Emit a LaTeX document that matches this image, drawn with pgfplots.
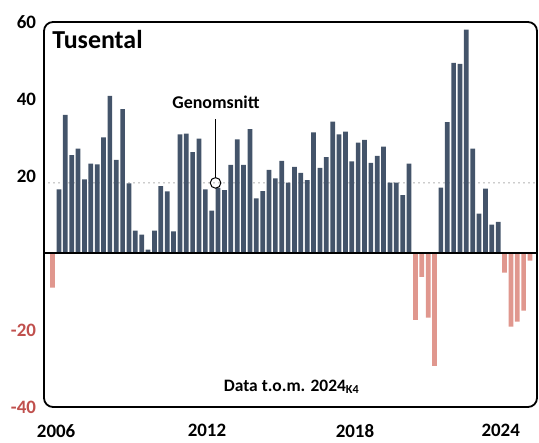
\documentclass[border=0pt]{standalone}
\usepackage{pgfplots}
\pgfplotsset{compat=1.18}
\usepackage{fontspec}
\setmainfont{Carlito}
\definecolor{barblue}{HTML}{44546A}
\definecolor{barred}{HTML}{E0978E}
\definecolor{tickred}{HTML}{C0504D}
\definecolor{avggray}{HTML}{999999}
\begin{document}
\begin{tikzpicture}
\begin{axis}[
  at={(44bp,36bp)}, anchor=south west,
  scale only axis, width=493bp, height=385bp,
  xmin=-0.35, xmax=77.1, ymin=-40, ymax=60,
  axis line style={draw=none},
  major tick length=0pt, tick style={draw=none},
  ybar, bar width=0.74, bar shift=0pt,
  ytick={-40,-20,20,40,60},
  yticklabels={{\textcolor{tickred}{-40}},{\textcolor{tickred}{-20}},20,40,60},
  xtick={1.55,25.25,48.5,71.4},
  xticklabels={2006,2012,2018,2024},
  /pgf/number format/assume math mode=true,
  tick label style={font=\fontsize{19}{22}\selectfont\bfseries},
  yticklabel style={xshift=-4.5bp},
  xticklabel style={yshift=-14bp},
  clip=false,
]
% average line
\addplot[sharp plot, avggray, line width=1.6bp, line cap=round, dash pattern=on 0bp off 5bp] coordinates {(-0.35,18.2) (77.1,18.2)};
% positive bars
\addplot[fill=barblue, draw=none] coordinates {
(2,16.5)(3,35.9)(4,25.4)(5,27.1)(6,19.1)(7,23.2)(8,23.0)(9,30.0)(10,40.8)
(11,24.2)(12,37.4)(13,18.1)(14,5.8)(15,4.8)(16,0.9)(17,5.8)(18,17.4)(19,16.0)(20,5.6)
(21,30.8)(22,31.0)(23,26.2)(24,29.7)(25,16.5)(26,11.0)(27,16.9)(28,16.3)(29,22.9)(30,29.5)
(31,22.9)(32,32.2)(33,14.2)(34,16.1)(35,21.6)(36,19.4)(37,23.9)(38,18.3)(39,22.4)(40,20.8)
(41,18.9)(42,31.3)(43,22.1)(44,24.9)(45,34.1)(46,30.8)(47,31.5)(48,23.8)(49,28.7)(50,29.4)
(51,23.4)(52,25.2)(53,27.6)(54,18.3)(55,18.3)(56,15.0)(57,23.2)
(62,17.0)(63,34.0)(64,49.4)(65,49.1)(66,58.0)(67,27.1)(68,10.2)(69,16.7)(70,7.4)(71,8.1)
};
% negative bars
\addplot[fill=barred, draw=none] coordinates {
(1,-9.0)(58,-17.4)(59,-6.2)(60,-16.8)(61,-29.3)(72,-5.1)(73,-19.1)(74,-17.8)(75,-15.0)(76,-2.0)
};
% zero line
\addplot[sharp plot, black, line width=2bp] coordinates {(-0.35,0) (77.1,0)};
% average marker
\addplot[sharp plot, black, line width=1bp] coordinates {(26.6,19.6) (26.6,34.9)};
\addplot[only marks, mark=o, mark size=5.3bp, mark options={black, line width=1bp}] coordinates {(26.6,18.2)};
\node[anchor=base, inner sep=0pt, font=\fontsize{18}{20}\selectfont\bfseries] at (axis cs:26.67,37.5) {Genomsnitt};
\node[anchor=base west, inner sep=0pt, font=\fontsize{26}{30}\selectfont\bfseries] at (axis cs:0.92,53.0) {Tusental};
\node[anchor=base, inner sep=0pt, font=\fontsize{17.5}{20}\selectfont\bfseries] at (axis cs:38.55,-35.9) {Data t.o.m. 2024\textsubscript{K4}};
\draw[black, line width=1.8bp, rounded corners=9bp] (rel axis cs:0,0) rectangle (rel axis cs:1,1);
\end{axis}
\pgfresetboundingbox
\path[use as bounding box] (0,0) rectangle (539bp,443bp);
\end{tikzpicture}
\end{document}
